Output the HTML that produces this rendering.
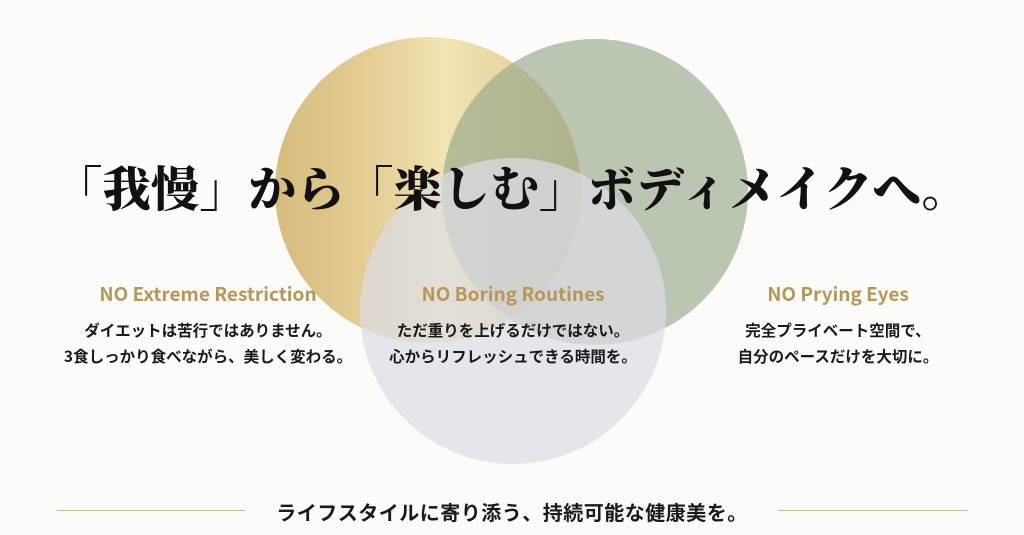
<!DOCTYPE html>
<html><head><meta charset="utf-8"><style>
html,body{margin:0;padding:0;background:#fbfbfa;}
body{width:1024px;height:535px;position:relative;overflow:hidden;font-family:"Liberation Sans","Noto Sans CJK JP",sans-serif;}
.c{position:absolute;border-radius:50%;}
.t{position:absolute;left:0;width:1024px;top:151px;text-align:center;font-family:"Liberation Serif","Noto Serif CJK JP",serif;font-weight:900;font-size:48px;color:#111;white-space:nowrap;letter-spacing:0.5px;}
.col{position:absolute;width:360px;text-align:center;}
.h{color:#b59857;font-weight:bold;font-size:19px;font-family:"Noto Sans CJK JP",sans-serif;line-height:24px;}
.b{color:#1a1a1a;font-weight:bold;font-size:15.5px;line-height:26px;margin-top:11px;font-family:"Noto Sans CJK JP",sans-serif;}
.line{position:absolute;top:510px;height:1px;background:#cdb780;}
</style></head><body>
<div class="c" style="left:275px;top:37px;width:306px;height:306px;background:linear-gradient(90deg,#d6bb7c 0%,#e8d49d 40%,#f3e4b4 55%,#dcc48a 100%);"></div>
<div class="c" style="left:442px;top:39px;width:306px;height:306px;background:rgba(150,168,140,0.65);"></div>
<div class="c" style="left:360px;top:158px;width:306px;height:306px;background:rgba(220,220,228,0.72);"></div>
<div class="t">「我慢」から「楽しむ」ボディメイクへ。</div>
<div class="col" style="left:28px;top:282px;"><div class="h">NO Extreme Restriction</div><div class="b">ダイエットは苦行ではありません。<br>3食しっかり食べながら、美しく変わる。</div></div>
<div class="col" style="left:333px;top:282px;"><div class="h">NO Boring Routines</div><div class="b">ただ重りを上げるだけではない。<br>心からリフレッシュできる時間を。</div></div>
<div class="col" style="left:658px;top:282px;"><div class="h">NO Prying Eyes</div><div class="b">完全プライベート空間で、<br>自分のペースだけを大切に。</div></div>
<div class="line" style="left:57px;width:188px;"></div>
<div class="line" style="left:778px;width:190px;"></div>
<div style="position:absolute;left:0;width:1024px;top:498px;text-align:center;font-weight:bold;font-size:20px;letter-spacing:0.5px;color:#1a1a1a;font-family:'Noto Sans CJK JP',sans-serif;line-height:28px;">ライフスタイルに寄り添う、持続可能な健康美を。</div>
</body></html>
